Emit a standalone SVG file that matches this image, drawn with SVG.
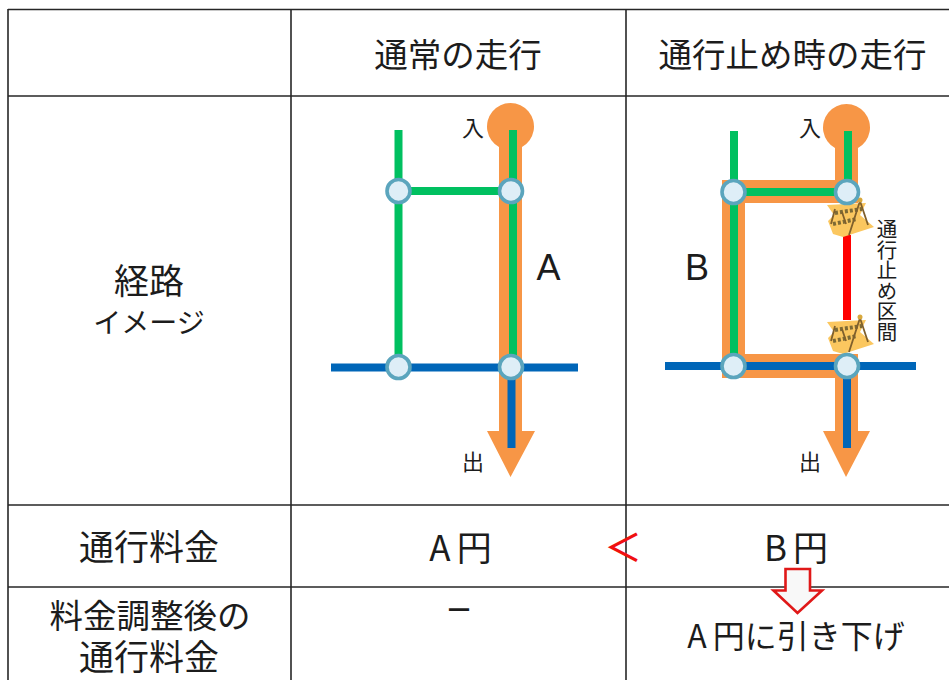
<svg xmlns="http://www.w3.org/2000/svg" width="949" height="680" viewBox="0 0 949 680">
<style>
text{font-family:"Noto Sans CJK JP","Noto Sans",sans-serif;fill:#1c1c1c;font-weight:400}
.c{text-anchor:middle;font-size:33.500px}
.m{text-anchor:middle;font-size:35px}
.s{text-anchor:middle;font-size:22px}
.l{font-family:"Liberation Sans",Arial,sans-serif;font-size:36px;text-anchor:middle;font-weight:400}
.grid line{stroke:#262626;stroke-width:1.6}
.or{fill:#f79646}
.g{stroke:#00c060;stroke-width:8;fill:none}
.b{stroke:#0066b8;stroke-width:8;fill:none}
.st{fill:#deeef7;stroke:#5ba5bd;stroke-width:3.6}
</style>
<defs>
<g id="barricade">
<path d="M827 205L866 203L860 215L874 227L843 237L833 234L828 221L834 215Z" fill="#fbc75f"/>
<path d="M835 213L862 209M833 224L857 219" stroke="#7d6a35" stroke-width="4" stroke-dasharray="3 2" fill="none"/>
<path d="M835 209L831 224M842 212L846 224M860 201L849 235M860 201L868 225" stroke="#80602c" stroke-width="1.8" fill="none"/>
<circle cx="860" cy="200" r="2.5" fill="#d8a83c"/>
</g>
<g id="station"><ellipse cx="0" cy="0" rx="11.500" ry="11.500" class="st"/></g>
</defs>
<rect width="949" height="680" fill="#fff"/>
<g id="table" class="grid">
<line x1="8" y1="9.500" x2="949" y2="9.500"/>
<line x1="8" y1="96" x2="949" y2="96"/>
<line x1="8" y1="505" x2="949" y2="505"/>
<line x1="8" y1="587" x2="949" y2="587"/>
<line x1="8" y1="9" x2="8" y2="680"/>
<line x1="291" y1="9" x2="291" y2="680"/>
<line x1="626" y1="9" x2="626" y2="680"/>
</g>
<g id="headers">
<text class="c" x="458" y="67">通常の走行</text>
<text class="c" x="792.500" y="67">通行止め時の走行</text>
<text class="m" x="149" y="294">経路</text>
<text x="149" y="333" text-anchor="middle" style="font-size:28px">イメージ</text>
<text class="m" x="149" y="560">通行料金</text>
<text class="c" x="150" y="628">料金調整後の</text>
<text class="m" x="149" y="670">通行料金</text>
</g>
<g id="route-normal">
<path class="or" d="M499 147A23.500 23.500 0 1 1 522 147V431H535L510.500 477L487 431H499Z"/>
<path class="g" d="M398.500 130V367M398.500 191H511M513 130V367"/>
<path class="b" d="M331 367.500H578M511.500 367.500V448"/>
<use href="#station" x="398.500" y="191"/>
<use href="#station" x="511" y="191"/>
<use href="#station" x="398.500" y="367"/>
<use href="#station" x="511" y="367"/>
<text class="s" x="473" y="136">入</text>
<text class="s" x="473" y="470">出</text>
<text class="l" x="548.500" y="280">A</text>
</g>
<g id="route-closed">
<path class="or" d="M835 148A23.500 23.500 0 1 1 858 148V203H745V354H858V431H870L846 477L823 431H835V378H722V180H835Z"/>
<path class="g" d="M734 131V366M734 192H847M848 131V192"/>
<path d="M847 235V320" stroke="#ff0000" stroke-width="8" fill="none"/>
<path class="b" d="M665 366H916M847 366V448"/>
<use href="#barricade"/>
<use href="#barricade" y="117"/>
<use href="#station" x="733.500" y="192"/>
<use href="#station" x="847" y="192"/>
<use href="#station" x="733.500" y="366"/>
<use href="#station" x="847" y="366"/>
<text class="s" x="810" y="136">入</text>
<text class="s" x="810" y="470">出</text>
<text class="l" x="697" y="280">B</text>
<text x="887" y="219" style="writing-mode:vertical-rl;font-size:20.500px;text-anchor:start">通行止め区間</text>
</g>
<g id="fees">
<text class="m" x="460.500" y="561">A<tspan dx="6">円</tspan></text>
<text class="m" x="796" y="561">B<tspan dx="6">円</tspan></text>
<text class="c" x="459" y="622" textLength="28" lengthAdjust="spacingAndGlyphs" style="font-weight:500">－</text>
<text x="796" y="648" text-anchor="middle" style="font-size:32px">A<tspan dx="6">円に引き下げ</tspan></text>
<text x="623" y="561" text-anchor="middle" style="font-size:38px;fill:#f01010;font-weight:500">＜</text>
<path id="down-arrow" d="M785.500 569H810V590.500H822L797.500 613L773.500 590.500H785.500Z" fill="#f8f8f8" stroke="#e01818" stroke-width="2.600"/>
</g>
</svg>
